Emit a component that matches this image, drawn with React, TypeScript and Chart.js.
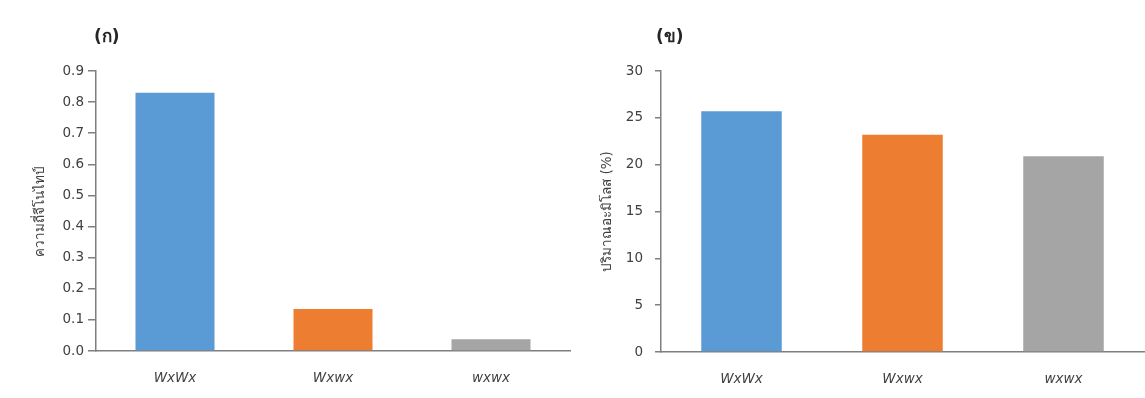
import React, { useEffect, useRef } from "react";
import { Chart, registerables } from "chart.js";

Chart.register(...registerables);

const categories = ["WxWx", "Wxwx", "wxwx"];
const frequencyValues = [0.83, 0.135, 0.038];
const amyloseValues = [25.7, 23.2, 20.9];
const barColors = ["#5B9BD5", "#ED7D31", "#A5A5A5"];
const titleA = "(ก)";
const titleB = "(ข)";
const yTitleA = "ความถี่จีโนไทป์";
const yTitleB = "ปริมาณอะมิโลส (%)";

const FONT = "'DejaVu Sans', 'Noto Sans', sans-serif";

const panelTitle = {
  id: "panelTitle",
  afterDraw(chart: any, _args: any, opts: any) {
    const { ctx, chartArea } = chart;
    ctx.save();
    ctx.font = `bold 17px ${FONT}`;
    ctx.fillStyle = "#262626";
    ctx.textBaseline = "middle";
    ctx.textAlign = "left";
    ctx.fillText(opts.text, chartArea.left + opts.dx, opts.y);
    ctx.restore();
  },
};

function makeConfig(
  values: number[],
  max: number,
  step: number,
  decimals: number,
  title: string,
  yTitle: string,
  yWidth: number,
  xHeight: number,
  padRight: number,
  titleDx: number,
  yTitlePad: number,
  tickLen: number,
  tickPad: number
): any {
  return {
    type: "bar",
    data: {
      labels: categories,
      datasets: [
        {
          data: values,
          backgroundColor: barColors,
          barPercentage: 0.5,
          categoryPercentage: 1,
        },
      ],
    },
    plugins: [panelTitle],
    options: {
      animation: false,
      responsive: false,
      layout: { padding: { top: 71, right: padRight, left: 0, bottom: 0 } },
      plugins: {
        legend: { display: false },
        tooltip: { enabled: false },
        panelTitle: { text: title, dx: titleDx, y: 38 },
      },
      scales: {
        x: {
          grid: { display: false, drawTicks: false },
          border: { color: "#7f7f7f", width: 1.5 },
          ticks: {
            color: "#404040",
            padding: 19,
            font: { family: FONT, size: 13.5, style: "italic" },
          },
          afterFit(scale: any) {
            scale.height = xHeight;
          },
        },
        y: {
          min: 0,
          max: max,
          grid: {
            drawOnChartArea: false,
            tickLength: tickLen,
            color: "#7f7f7f",
            lineWidth: 1.5,
          },
          border: { color: "#7f7f7f", width: 1.5 },
          ticks: {
            stepSize: step,
            color: "#404040",
            padding: tickPad,
            font: { family: FONT, size: 13.5 },
            callback: (v: any) => Number(v).toFixed(decimals),
          },
          title: {
            display: true,
            text: yTitle,
            color: "#404040",
            padding: { top: yTitlePad, bottom: 0 },
            font: { family: FONT, size: 13.5 },
          },
          afterFit(scale: any) {
            scale.width = yWidth;
          },
        },
      },
    },
  };
}

export default function App() {
  const leftRef = useRef<HTMLCanvasElement>(null);
  const rightRef = useRef<HTMLCanvasElement>(null);

  useEffect(() => {
    const c1 = new Chart(
      leftRef.current as HTMLCanvasElement,
      makeConfig(frequencyValues, 0.9, 0.1, 1, titleA, yTitleA, 96, 47, 5, -2, 32, 8, 4)
    );
    const c2 = new Chart(
      rightRef.current as HTMLCanvasElement,
      makeConfig(amyloseValues, 30, 5, 0, titleB, yTitleB, 86, 46, 1, -5, 24, 6, 12)
    );
    return () => {
      c1.destroy();
      c2.destroy();
    };
  }, []);

  return (
    <div
      style={{
        position: "absolute",
        left: 0,
        top: 0,
        width: 1145,
        height: 398,
        background: "#ffffff",
      }}
    >
      <canvas
        ref={leftRef}
        width={575}
        height={398}
        style={{ position: "absolute", left: 0, top: 0, width: 575, height: 398 }}
      />
      <canvas
        ref={rightRef}
        width={570}
        height={398}
        style={{ position: "absolute", left: 575, top: 0, width: 570, height: 398 }}
      />
    </div>
  );
}
